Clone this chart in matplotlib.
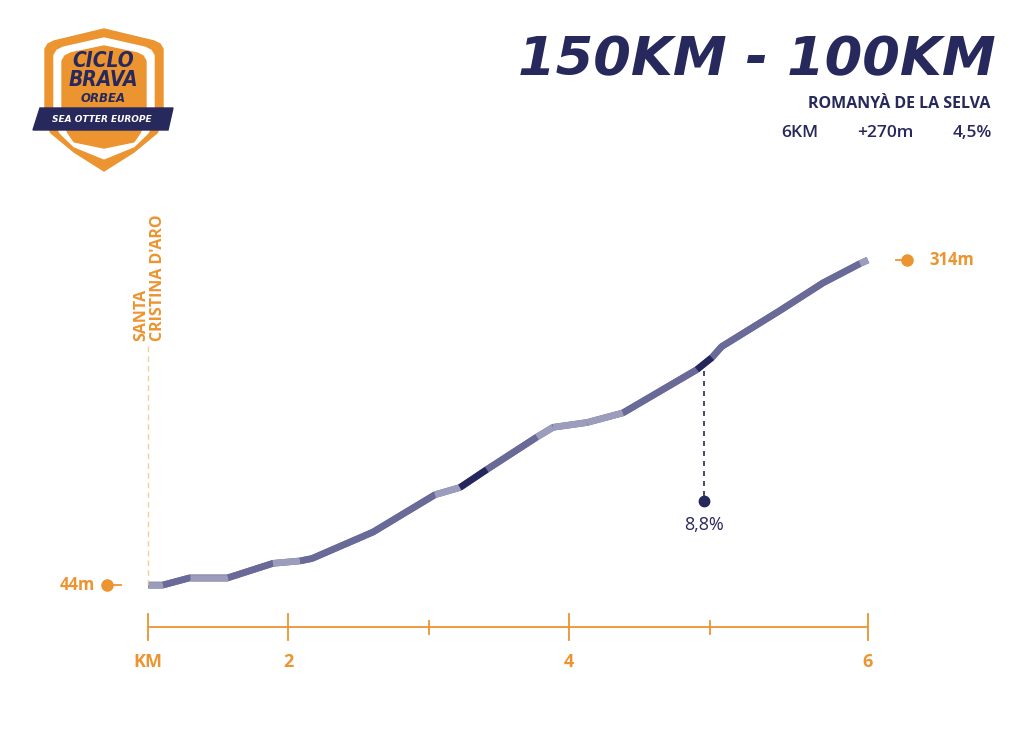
import matplotlib
matplotlib.use("Agg")
import matplotlib.pyplot as plt
from matplotlib.collections import LineCollection
from matplotlib.patches import Polygon
import numpy as np

# profile data (km, metres)
km = [1.0, 1.107, 1.299, 1.570, 1.890, 2.083, 2.168, 2.603, 3.044, 3.222, 3.414,
      3.771, 3.885, 4.127, 4.383, 4.910, 5.017, 5.085, 5.501, 5.808, 6.071, 6.128]
elev = [44, 44, 50, 50, 62, 64, 66, 88, 119, 125, 140,
        167, 175, 179, 187, 223, 233, 242, 272, 295, 311, 314]
# gradient class of each segment: 0 easy, 1 medium, 2 steep
grade = [0, 1, 0, 1, 0, 1, 1, 1, 0, 2, 1, 0, 0, 0, 1, 2, 1, 1, 1, 1, 0]

tick_km = [1, 2, 3, 4, 5, 6.128]
tick_labels = ["KM", "2", "", "4", "", "6"]
major = [True, True, False, True, False, True]

peak_km, peak_elev, peak_label = 4.96, 228, "8,8%"
start_name = "SANTA\nCRISTINA D'ARO"

NAVY = "#27285c"
ORANGE = "#ec9430"
SEG_COLORS = ["#9c9cbd", "#6a6a99", "#26265e"]

fig = plt.figure(figsize=(10.24, 7.41), dpi=100)
fig.patch.set_facecolor("white")

# chart axes, limits chosen so data lands where the reference puts it
ax = fig.add_axes([0, 0, 1, 1])
ax.set_xlim(1 - 148 / 140.4, 1 + 876 / 140.4)
ax.set_ylim(44 - 156 * 0.8308, 44 + 585 * 0.8308)
ax.axis("off")

pts = np.column_stack([km, elev])
ax.plot(km, elev, color=SEG_COLORS[1], lw=4.8, solid_joinstyle="round",
        solid_capstyle="butt", zorder=2)
segs = [pts[i:i + 2] for i in range(len(pts) - 1)]
lc = LineCollection(segs, colors=[SEG_COLORS[g] for g in grade], linewidths=4.8,
                    capstyle="butt", joinstyle="round", zorder=3)
ax.add_collection(lc)

# distance axis
ax_y = 9
ax.plot([km[0], tick_km[-1]], [ax_y, ax_y], color=ORANGE, lw=1.3, solid_capstyle="butt")
for t, lab, big in zip(tick_km, tick_labels, major):
    h = 11 if big else 5.5
    ax.plot([t, t], [ax_y - h, ax_y + h], color=ORANGE, lw=1.3)
    if lab:
        ax.text(t, -20, lab, color=ORANGE, fontsize=13, fontweight="bold",
                ha="center", va="center", family="Open Sans")

# start marker
ax.plot([km[0], km[0]], [elev[0], 244], color="#f3cf9c", lw=1.0, ls=(0, (4, 3)))
ax.text(km[0] + 0.01, 247, start_name, rotation=90, color=ORANGE, fontsize=11.5,
        fontweight="bold", ha="center", va="bottom", multialignment="left",
        family="Open Sans", linespacing=1.05)
ax.plot([km[0] - 0.29, km[0] - 0.19], [elev[0], elev[0]], color=ORANGE, lw=1.3)
ax.plot(km[0] - 0.29, elev[0], "o", color=ORANGE, ms=8)
ax.text(km[0] - 0.38, elev[0], f"{elev[0]}m", color=ORANGE, fontsize=12,
        fontweight="bold", ha="right", va="center", family="Open Sans")

# end marker
ax.plot([tick_km[-1] + 0.2, tick_km[-1] + 0.28], [elev[-1], elev[-1]], color=ORANGE, lw=1.3)
ax.plot(tick_km[-1] + 0.28, elev[-1], "o", color=ORANGE, ms=8)
ax.text(tick_km[-1] + 0.44, elev[-1], f"{elev[-1]}m", color=ORANGE, fontsize=12,
        fontweight="bold", ha="left", va="center", family="Open Sans")

# max gradient callout
ax.plot([peak_km, peak_km], [peak_elev - 6, 116], color=NAVY, lw=1.2, ls=(0, (3, 3)))
ax.plot(peak_km, 114, "o", color=NAVY, ms=7.5)
ax.text(peak_km, 94, peak_label, color=NAVY, fontsize=13, ha="center", va="center",
        family="Open Sans")

# header text
ax.text(0.972, 0.918, "150KM - 100KM", transform=ax.transAxes, color=NAVY,
        fontsize=39, fontweight="bold", style="italic", ha="right", va="center",
        family="DejaVu Sans")
ax.text(0.967, 0.859, "ROMANYÀ DE LA SELVA", transform=ax.transAxes, color=NAVY,
        fontsize=11.5, fontweight="bold", ha="right", va="center", family="Open Sans")
for xx, s in [(0.799, "6KM"), (0.892, "+270m"), (0.969, "4,5%")]:
    ax.text(xx, 0.820, s, transform=ax.transAxes, color=NAVY, fontsize=12.5,
            fontweight="semibold", ha="right", va="center", family="Open Sans")

# logo drawn in pixel coordinates
lx = fig.add_axes([0, 0, 1, 1])
lx.set_xlim(0, 1024)
lx.set_ylim(741, 0)
lx.axis("off")


def shield(d):
    xl, xr, cx = 45 + d, 163 - d, 104
    top_c, top_m = 42 + d * 0.7, 29 + d
    bot = 171 - d * 1.35
    pts_ = [(xl, top_c + 7), (xl + 3, top_c + 2), (xl + 9, top_c - 1), (cx, top_m),
            (xr - 9, top_c - 1), (xr - 3, top_c + 2), (xr, top_c + 7),
            (xr, 122 - d * 0.2), (xr - 6, 133), (cx + 30, 152 - d * 0.6), (cx, bot),
            (cx - 30, 152 - d * 0.6), (xl + 6, 133), (xl, 122 - d * 0.2)]
    return pts_


lx.add_patch(Polygon(shield(0), closed=True, color=ORANGE, zorder=1))
lx.add_patch(Polygon(shield(9), closed=True, color="white", zorder=2))
lx.add_patch(Polygon(shield(17), closed=True, color=ORANGE, zorder=3))
lx.add_patch(Polygon([(40, 108), (173, 108), (168, 130), (33, 130)], closed=True,
                     color=NAVY, zorder=4))
lx.text(103, 61, "CICLO", color=NAVY, fontsize=15, fontweight="bold", style="italic",
        ha="center", va="center", fontstretch="condensed", family="DejaVu Sans", zorder=5)
lx.text(103, 80, "BRAVA", color=NAVY, fontsize=15, fontweight="bold", style="italic",
        ha="center", va="center", fontstretch="condensed", family="DejaVu Sans", zorder=5)
lx.text(103, 98, "ORBEA", color=NAVY, fontsize=8.5, fontweight="bold", style="italic",
        ha="center", va="center", family="DejaVu Sans", zorder=5)
lx.text(102, 119, "SEA OTTER EUROPE", color="white", fontsize=6.5, fontweight="bold",
        style="italic", ha="center", va="center", family="DejaVu Sans", zorder=5)

fig.savefig("out.png", dpi=100, facecolor="white")
